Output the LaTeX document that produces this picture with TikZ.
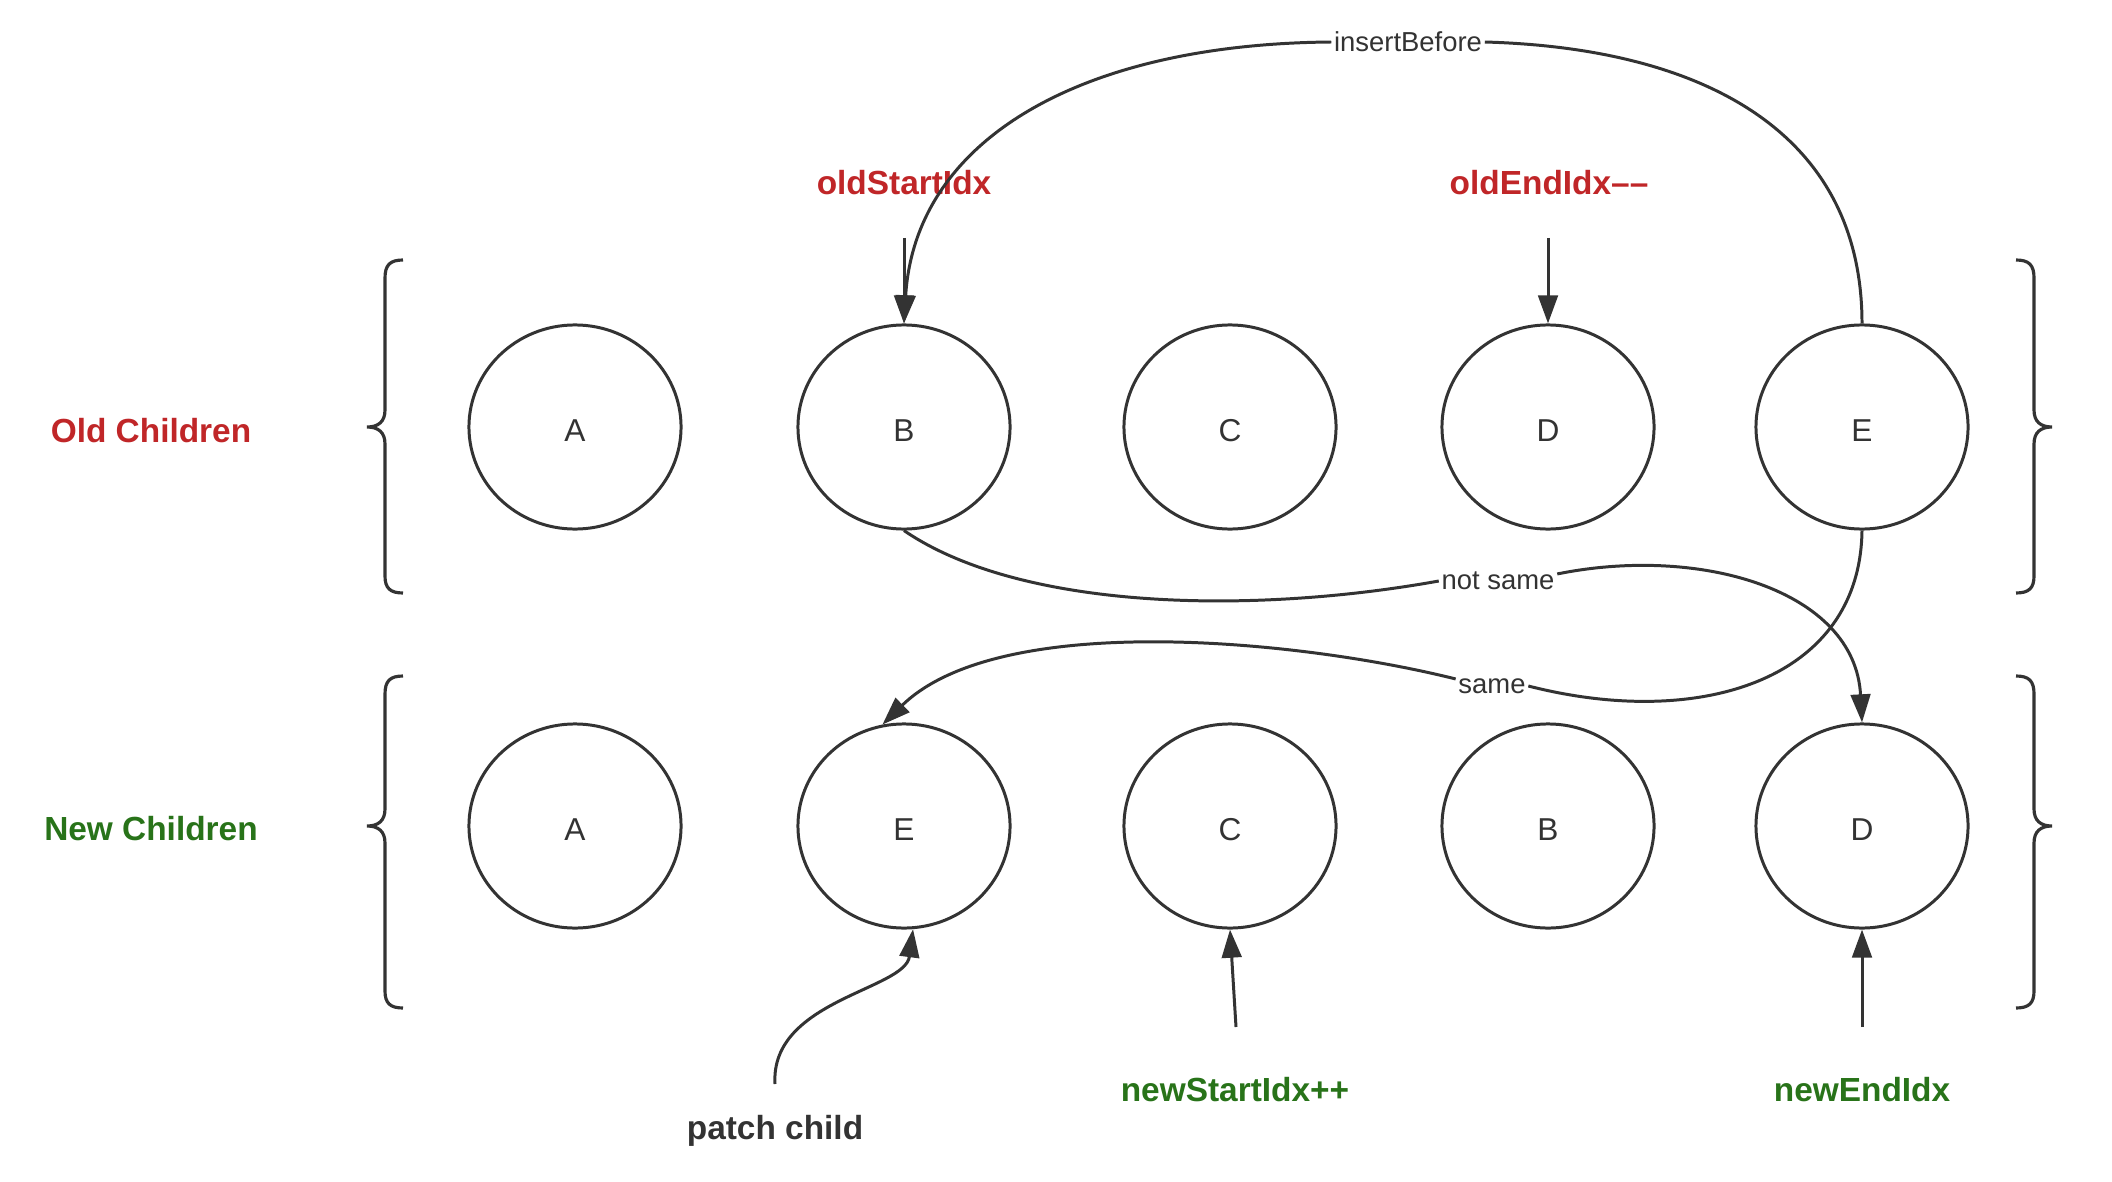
\documentclass[tikz,border=0pt]{standalone}
\usepackage{fontspec}
\setmainfont{Liberation Sans}
\usetikzlibrary{shapes.geometric,arrows.meta}
\definecolor{ink}{HTML}{333333}
\definecolor{oldred}{RGB}{192,38,40}
\definecolor{newgreen}{RGB}{40,115,25}
% letter set slightly below the centre of its circle
\newcommand{\vlabel}[1]{\raisebox{-1.1pt}[\height][0pt]{#1}}
\begin{document}
\begin{tikzpicture}[x=0.01cm,y=-0.01cm,
  vnode/.style={ellipse,draw=ink,line width=0.85pt,minimum width=2.12cm,minimum height=2.04cm,inner sep=0pt,text=ink,font=\fontsize{9}{10}\selectfont},
  tag/.style={font=\bfseries\fontsize{9.5}{11}\selectfont,inner sep=0pt},
  edgelbl/.style={font=\fontsize{7.8}{9}\selectfont,text=ink,fill=white,inner sep=0.6pt},
  conn/.style={draw=ink,line width=0.85pt},
  arr/.style={conn,-{Triangle[length=8pt,width=5.6pt]}},
  brace/.style={draw=ink,line width=0.9pt}
]
\useasboundingbox[fill=white] (0,0) rectangle (2112,1182);

% group labels
\node[tag,text=oldred]   (oldlbl) at (151,431) {Old Children};
\node[tag,text=newgreen] (newlbl) at (151,829) {New Children};

% curly braces around each row
\draw[brace] (403,260) .. controls (390,260) and (385,265) .. (385,278) -- (385,410)
  .. controls (385,422) and (378,427) .. (367,427) .. controls (378,427) and (385,432) .. (385,444)
  -- (385,576) .. controls (385,588) and (390,593) .. (403,593);
\draw[brace] (403,676) .. controls (390,676) and (385,681) .. (385,694) -- (385,809)
  .. controls (385,821) and (378,826) .. (367,826) .. controls (378,826) and (385,831) .. (385,843)
  -- (385,991) .. controls (385,1003) and (390,1008) .. (403,1008);
\draw[brace] (2016,260) .. controls (2029,260) and (2034,265) .. (2034,278) -- (2034,410)
  .. controls (2034,422) and (2041,427) .. (2052,427) .. controls (2041,427) and (2034,432) .. (2034,444)
  -- (2034,576) .. controls (2034,588) and (2029,593) .. (2016,593);
\draw[brace] (2016,676) .. controls (2029,676) and (2034,681) .. (2034,694) -- (2034,809)
  .. controls (2034,821) and (2041,826) .. (2052,826) .. controls (2041,826) and (2034,831) .. (2034,843)
  -- (2034,991) .. controls (2034,1003) and (2029,1008) .. (2016,1008);

% old children
\node[vnode] (o1) at (575,427)  {\vlabel{A}};
\node[vnode] (o2) at (904,427)  {\vlabel{B}};
\node[vnode] (o3) at (1230,427) {\vlabel{C}};
\node[vnode] (o4) at (1548,427) {\vlabel{D}};
\node[vnode] (o5) at (1862,427) {\vlabel{E}};

% new children
\node[vnode] (n1) at (575,826)  {\vlabel{A}};
\node[vnode] (n2) at (904,826)  {\vlabel{E}};
\node[vnode] (n3) at (1230,826) {\vlabel{C}};
\node[vnode] (n4) at (1548,826) {\vlabel{B}};
\node[vnode] (n5) at (1862,826) {\vlabel{D}};

% index pointers
\node[tag,text=oldred]   (osi) at (904,183)  {oldStartIdx};
\node[tag,text=oldred]   (oei) at (1549,183) {oldEndIdx\textendash\textendash};
\node[tag,text=newgreen] (nsi) at (1235,1090) {newStartIdx++};
\node[tag,text=newgreen] (nei) at (1862,1090) {newEndIdx};
\node[tag,text=ink]      (pc)  at (775,1131)  {patch child};

\coordinate (osiTail) at (904,238);
\coordinate (oeiTail) at (1548,238);
\coordinate (nsiTail) at (1236,1027);
\coordinate (neiTail) at (1862,1027);
\coordinate (pcTail)  at (775,1084);

\draw[arr] (osiTail) -- (o2.north);
\draw[arr] (oeiTail) -- (o4.north);
\draw[arr] (nsiTail) -- (n3.south);
\draw[arr] (neiTail) -- (n5.south);
\draw[arr] (pcTail) .. controls (770,1000) and (905,990) .. (n2.275);

% edge labels
\node[edgelbl] (ib) at (1408,42)  {insertBefore};
\node[edgelbl] (ns) at (1498,581) {not same};
\node[edgelbl] (sm) at (1492,686) {same};

% insertBefore: E moves in front of B
\draw[conn] (o5.north) .. controls (1862,130) and (1700,48) .. (ib.east);
\draw[arr]  (ib.west) .. controls (1080,44) and (915,140) .. (o2.north);

% not same: old B against new D
\draw[conn] (o2.south) .. controls (1020,610) and (1250,615) .. (ns.west);
\draw[arr]  ([yshift=2pt]ns.east) .. controls (1700,545) and (1855,590) .. (n5.north);

% same: old E against new E
\draw[conn] (o5.south) .. controls (1860,680) and (1700,730) .. (sm.east);
\draw[arr]  ([yshift=2pt]sm.west) .. controls (1300,640) and (1000,610) .. (n2.102);
\end{tikzpicture}
\end{document}
